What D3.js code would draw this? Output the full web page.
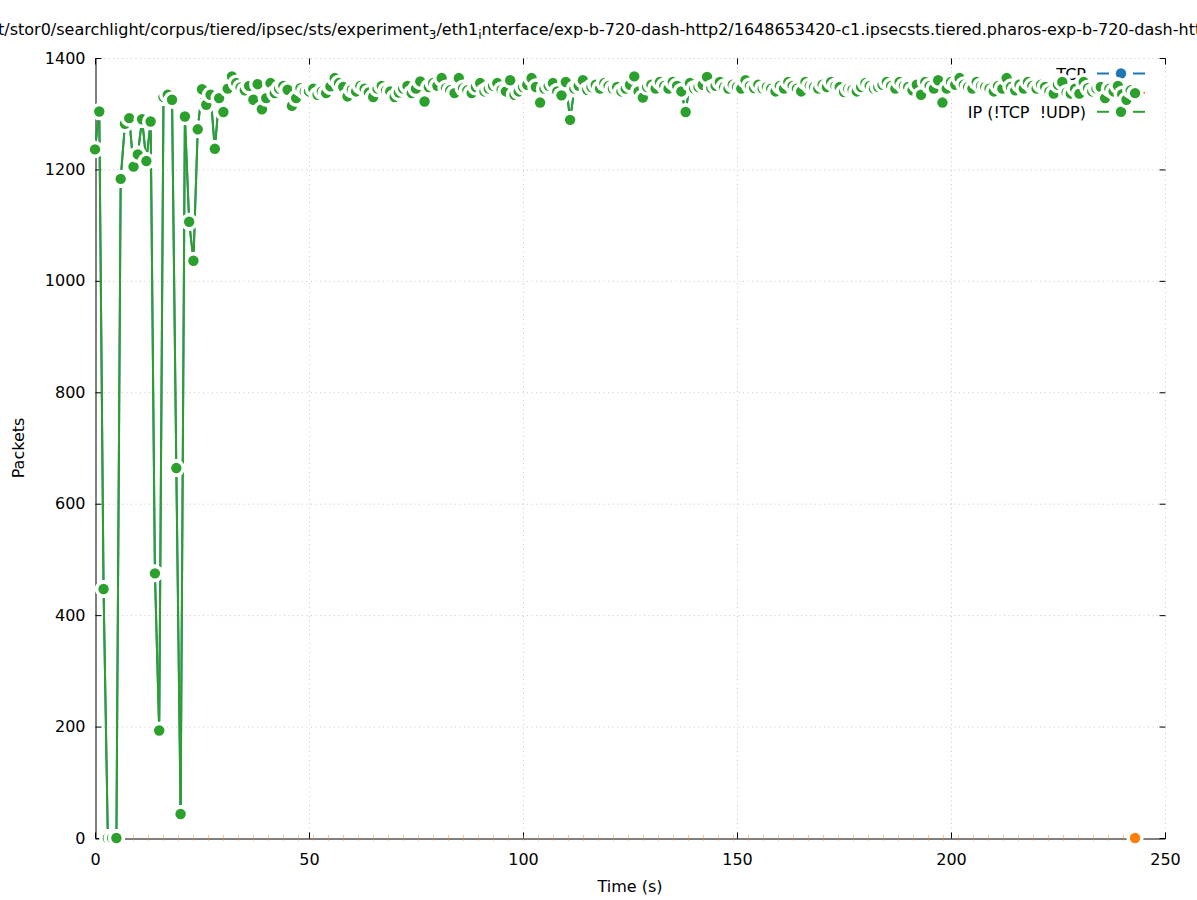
<!DOCTYPE html>
<html><head><meta charset="utf-8">
<script src="https://cdn.jsdelivr.net/npm/d3@7"></script>
<style>
body{margin:0;background:#fff}
svg{display:block}
text{font-family:"DejaVu Sans",sans-serif;fill:#000}
</style>
</head><body>
<svg id="c" width="1197" height="900"></svg>
<script>
// ---- data ----
const xTicks = [0, 50, 100, 150, 200, 250];
const yTicks = [0, 200, 400, 600, 800, 1000, 1200, 1400];
const seriesNames = ["TCP", "UDP", "IP (!TCP  !UDP)"];
const seriesColors = ["#1f77b4", "#ff7f0e", "#2ca02c"];
const times = d3.range(244); // one sample per second, 0..243 s

const ipValues = [
1236,1304,447,0,0,0,1183,1282,1292,1205,1227,1290,1215,1286,475,193,1330,1334,1325,664,
43,1295,1106,1036,1272,1344,1316,1334,1237,1328,1303,
1345,1367,1355,1347,1342,1350,1325,1353,1308,1328,
1355,1337,1345,1350,1343,1314,1328,1346,1340,1340,
1345,1334,1340,1337,1349,1364,1355,1348,1331,1343,
1340,1350,1345,1338,1330,1345,1350,1342,1340,1330,
1338,1345,1350,1337,1345,1358,1322,1348,1355,1350,
1364,1346,1342,1337,1364,1346,1342,1337,1348,1355,
1340,1345,1350,1355,1343,1340,1360,1334,1340,1348,
1352,1364,1348,1320,1345,1350,1355,1340,1333,1357,
1289,1345,1350,1360,1343,1348,1352,1345,1355,1350,
1345,1348,1340,1345,1352,1367,1340,1329,1348,1352,
1345,1357,1350,1345,1357,1350,1340,1303,1355,1345,
1348,1352,1366,1346,1350,1357,1348,1345,1352,1348,
1345,1360,1350,1346,1352,1345,1348,1345,1340,1350,
1345,1357,1350,1345,1340,1357,1350,1348,1345,1352,
1348,1357,1350,1348,1339,1345,1343,1340,1348,1355,
1350,1345,1348,1352,1357,1350,1345,1357,1350,1348,
1342,1352,1334,1357,1350,1345,1360,1320,1345,1357,
1352,1364,1352,1348,1345,1357,1350,1348,1345,1340,
1350,1345,1364,1348,1342,1352,1345,1357,1350,1345,
1352,1348,1340,1336,1352,1357,1338,1336,1345,1336,
1357,1346,1340,1345,1348,1328,1345,1340,1350,1335,
1325,1342,1337
];
const tcpValues = ipValues.slice();          // TCP identical to IP (hidden beneath it)
const udpValues = new Array(244).fill(0);     // UDP always 0

// ---- layout ----
const svg = d3.select("#c");
const X0 = 95, X1 = 1165, Y0 = 838, Y1 = 58;
const x = d3.scaleLinear().domain([0, 250]).range([X0, X1]);
const y = d3.scaleLinear().domain([0, 1400]).range([Y0, Y1]);
const FS = 16, R = 5.2, HALO = 8.6, GAP = 9;

// grid
const grid = svg.append("g").attr("stroke", "#c8c8c8").attr("stroke-width", 1).attr("stroke-dasharray", "1,3.5");
grid.selectAll("line.gx").data(xTicks.filter(d => d > 0)).join("line")
  .attr("x1", d => x(d) + .5).attr("x2", d => x(d) + .5).attr("y1", Y1).attr("y2", Y0);
grid.selectAll("line.gy").data(yTicks.filter(d => d > 0)).join("line")
  .attr("y1", d => y(d) + .5).attr("y2", d => y(d) + .5).attr("x1", X0).attr("x2", X1);

// axes
const fmt = d3.format("d");
const axL = svg.append("g").attr("transform", `translate(${X0 + .5},0)`)
  .call(d3.axisLeft(y).tickValues(yTicks).tickFormat(fmt).tickSizeInner(-6).tickSizeOuter(0).tickPadding(10));
const axB = svg.append("g").attr("transform", `translate(0,${Y0 + .5})`)
  .call(d3.axisBottom(x).tickValues(xTicks).tickFormat(fmt).tickSizeInner(-6).tickSizeOuter(0).tickPadding(15));
const axT = svg.append("g").attr("transform", `translate(0,${Y1 + .5})`)
  .call(d3.axisTop(x).tickValues(xTicks).tickSizeInner(-6).tickSizeOuter(0).tickFormat(""));
const axR = svg.append("g").attr("transform", `translate(${X1 + .5},0)`)
  .call(d3.axisRight(y).tickValues(yTicks).tickSizeInner(-6).tickSizeOuter(0).tickFormat(""));
axT.select(".domain").remove(); axR.select(".domain").remove();
[axL, axB, axT, axR].forEach(a => {
  a.attr("font-family", null).attr("font-size", null);
  a.selectAll("text").attr("font-size", FS).style("font-family", '"DejaVu Sans",sans-serif');
  a.selectAll("line,path").attr("stroke", "#000");
});

// axis titles
svg.append("text").attr("x", (X0 + X1) / 2).attr("y", 892).attr("text-anchor", "middle")
  .attr("font-size", FS).text("Time (s)");
svg.append("text").attr("transform", `translate(24,${(Y0 + Y1) / 2}) rotate(-90)`)
  .attr("text-anchor", "middle").attr("font-size", FS).text("Packets");

// title (gnuplot enhanced text: _3 and _i rendered as subscripts)
const title = svg.append("text").attr("y", 35).attr("font-size", FS);
title.append("tspan").text("/mnt/stor0/searchlight/corpus/tiered/ipsec/sts/experiment");
title.append("tspan").attr("dy", 4).attr("font-size", 12).text("3");
title.append("tspan").attr("dy", -4).text("/eth1");
title.append("tspan").attr("dy", 4).attr("font-size", 12).text("i");
title.append("tspan").attr("dy", -4).text("nterface/exp-b-720-dash-http2/1648653420-c1.ipsecsts.tiered.pharos-exp-b-720-dash-http2");
const tmp = svg.append("text").attr("font-size", FS).text("/mn");
const preW = tmp.node().getComputedTextLength(); tmp.remove();
title.attr("x", -preW - 2);

// ---- series ----
function keyEntry(i, color, rowY) {
  svg.append("text").attr("x", 1086).attr("y", rowY + 6).attr("text-anchor", "end")
    .attr("font-size", FS).style("white-space", "pre").text(seriesNames[i]);
  const cx = 1121;
  svg.append("line").attr("x1", 1097).attr("x2", cx - 12).attr("y1", rowY).attr("y2", rowY)
    .attr("stroke", color).attr("stroke-width", 2);
  svg.append("line").attr("x1", cx + 12).attr("x2", 1145).attr("y1", rowY).attr("y2", rowY)
    .attr("stroke", color).attr("stroke-width", 2);
  svg.append("circle").attr("cx", cx).attr("cy", rowY).attr("r", HALO).attr("fill", "#fff");
  svg.append("circle").attr("cx", cx).attr("cy", rowY).attr("r", R).attr("fill", color);
}

function drawSeries(vals, color, showPoint) {
  const pts = times.map((t, i) => [x(t), y(vals[i])]);
  const g = svg.append("g");
  const segs = [];
  for (let i = 0; i < pts.length - 1; i++) {
    const [x1, y1] = pts[i], [x2, y2] = pts[i + 1];
    const dx = x2 - x1, dy = y2 - y1, L = Math.hypot(dx, dy);
    if (L <= 2 * GAP) continue;
    const ux = dx / L, uy = dy / L;
    segs.push([x1 + ux * GAP, y1 + uy * GAP, x2 - ux * GAP, y2 - uy * GAP]);
  }
  g.selectAll("line").data(segs).join("line")
    .attr("x1", d => d[0]).attr("y1", d => d[1]).attr("x2", d => d[2]).attr("y2", d => d[3])
    .attr("stroke", color).attr("stroke-width", 2);
  pts.forEach((p, i) => {
    if (!showPoint(i)) return;
    g.append("circle").attr("cx", p[0]).attr("cy", p[1]).attr("r", HALO).attr("fill", "#fff");
    g.append("circle").attr("cx", p[0]).attr("cy", p[1]).attr("r", R).attr("fill", color);
  });
}

// TCP
keyEntry(0, seriesColors[0], 73.5);
drawSeries(tcpValues, seriesColors[0], () => true);
// UDP: flat at zero along the axis, only remnants visible, final point drawn
keyEntry(1, seriesColors[1], 92.8);
svg.append("path").datum(times.map((t, i) => [t, udpValues[i]]))
  .attr("d", d3.line().x(d => x(d[0])).y(d => y(d[1])))
  .attr("fill", "none").attr("stroke", seriesColors[1]).attr("stroke-opacity", 0.45)
  .attr("stroke-width", 6).attr("stroke-dasharray", "1,14").attr("stroke-dashoffset", -8);
{
  const i = times.length - 1;
  svg.append("circle").attr("cx", x(times[i])).attr("cy", y(udpValues[i])).attr("r", HALO).attr("fill", "#fff");
  svg.append("circle").attr("cx", x(times[i])).attr("cy", y(udpValues[i])).attr("r", R).attr("fill", seriesColors[1]);
}
// IP
keyEntry(2, seriesColors[2], 111.8);
drawSeries(ipValues, seriesColors[2], () => true);
</script>
</body></html>
